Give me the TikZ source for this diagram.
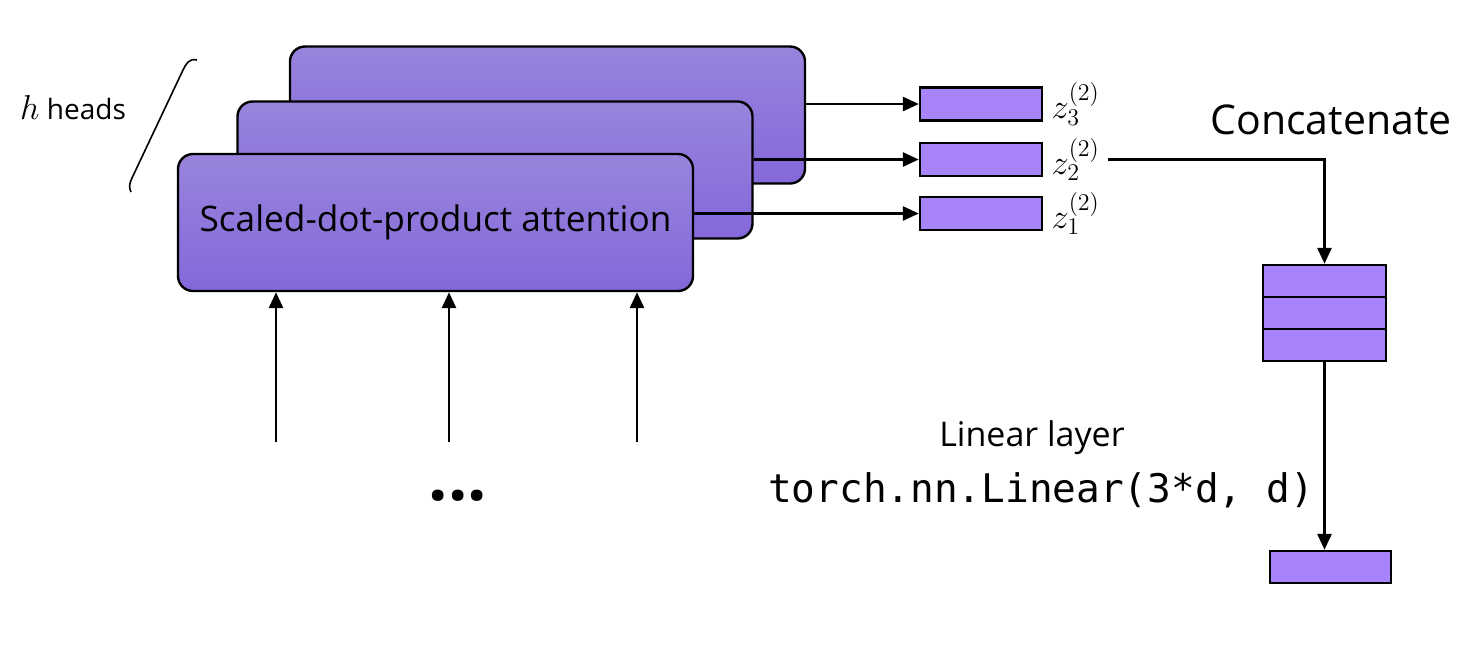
\documentclass[tikz,border=0pt]{standalone}
\usepackage{fontspec}
\setmainfont{Open Sans}
\setmonofont{DejaVu Sans Mono}
\usepackage{xcolor}
\usepackage{tikz}
\usetikzlibrary{arrows.meta}
\definecolor{headtop}{RGB}{152,132,220}
\definecolor{headbot}{RGB}{132,104,218}
\definecolor{vecfill}{RGB}{168,132,250}
\tikzstyle{headbox} = [draw=black, line width=1.2pt, rounded corners=7.5pt,
top color=headtop, bottom color=headbot, minimum width=257.5pt, minimum height=68.5pt]
\tikzstyle{vecbox} = [draw=black, line width=1.2pt, fill=vecfill, inner sep=0pt,
minimum width=61pt, minimum height=16.5pt]
\tikzstyle{arr} = [-{Triangle[length=8pt,width=7pt]}, line width=1.4pt]
\tikzstyle{zlabel} = [anchor=west, inner sep=0pt, font=\fontsize{17.5}{20}\selectfont]

\begin{document}
\begin{tikzpicture}[x=0.5pt,y=-0.5pt]
    \useasboundingbox (0,0) rectangle (1480,645);
    \node [headbox] (back) at (547.5,115) {};
    \node [headbox] (middle) at (495,170) {};
    \node [headbox, font=\fontsize{17.6}{21}\selectfont] (front) at (435.5,222.5) {Scaled-dot-product attention};
    \node [font=\fontsize{14}{17}\selectfont] (heads) at (73,108) {{\fontsize{17}{20}\selectfont$h$} heads};
    \draw [line width=0.8pt] (197,60) .. controls (189,58) and (186,64) .. (183,70)
        -- (132,178) .. controls (129,184) and (129,188) .. (131,192);
    \node [vecbox] (z3) at (981,104) {};
    \node [vecbox] (z2) at (981,159.5) {};
    \node [vecbox] (z1) at (981,213.5) {};
    \node [zlabel] (z3lbl) at ([xshift=4pt]z3.east) {$z_3^{(2)}$};
    \node [zlabel] (z2lbl) at ([xshift=4pt]z2.east) {$z_2^{(2)}$};
    \node [zlabel] (z1lbl) at ([xshift=4pt]z1.east) {$z_1^{(2)}$};
    \draw [arr] (back.east |- z3.west) -- (z3.west);
    \draw [arr] (middle.east |- z2.west) -- (z2.west);
    \draw [arr] (front.east |- z1.west) -- (z1.west);
    \node [font=\fontsize{20.5}{24}\selectfont] (concat) at (1331,120) {Concatenate};
    \node [vecbox, minimum width=61.5pt, minimum height=16pt] (cata) at (1324.5,281) {};
    \node [vecbox, minimum width=61.5pt, minimum height=16pt] (catb) at (1324.5,313) {};
    \node [vecbox, minimum width=61.5pt, minimum height=16pt] (catc) at (1324.5,345) {};
    \draw [arr] ([xshift=4pt]z2.east -| z2lbl.east) -| (cata.north);
    \node [vecbox, minimum width=60.5pt, minimum height=16pt] (out) at (1330.5,567) {};
    \draw [arr] (catc.south) -- (catc.south |- out.north);
    \node [font=\fontsize{17}{20}\selectfont] (linear) at (1032,438) {Linear layer};
    \node [font=\fontsize{19.7}{23}\ttfamily] (torch) at (1041,490) {torch.nn.Linear(3*d, d)};
    \coordinate (in1) at (276,442);
    \coordinate (in2) at (449,442);
    \coordinate (in3) at (637,442);
    \foreach \i in {in1,in2,in3}
        \draw [arr] (\i) -- (\i |- front.south);
    \node [font=\fontsize{34}{40}\bfseries] (dots) at (458,496) {...};
\end{tikzpicture}
\end{document}
